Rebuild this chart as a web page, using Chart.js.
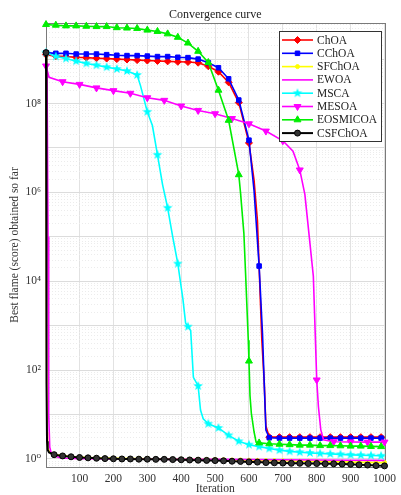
<!DOCTYPE html>
<html>
<head>
<meta charset="utf-8">
<script src="https://cdn.jsdelivr.net/npm/chart.js@4.4.1/dist/chart.umd.min.js"></script>
<style>
  body { margin: 0; background: #fff; }
  canvas { display: block; }
</style>
</head>
<body>
<canvas id="conv" width="401" height="495"></canvas>
<script>
// series names (legend order)
const seriesNames = ["ChOA", "CChOA", "SFChOA", "EWOA", "MSCA", "MESOA", "EOSMICOA", "CSFChOA"];

// ChOA
const choaIter = [1,30,60,90,120,150,180,210,240,270,300,330,360,390,420,450,480,510,540,570,600,615,625,632,638,645,650,660,690,720,750,780,810,840,870,900,930,960,990,1000];
const choaBest = [1.26e9,1.17e9,1.14e9,1.1e9,1.08e9,1.05e9,1.03e9,1.0e9,9.8e8,9.5e8,9.3e8,9.1e8,8.9e8,8.7e8,8.6e8,8.3e8,6.9e8,5.2e8,3.0e8,1.05e8,1.3e7,1.9e6,2.3e5,8e3,470,55,5.5,3.1,3.1,3.1,3.1,3.1,3.1,3.1,3.1,3.1,3.1,3.1,3.1,3.1];

// CChOA
const cchoaIter = [1,30,60,90,120,150,180,210,240,270,300,330,360,390,420,450,480,510,540,570,600,615,630,640,645,650,660,690,720,750,780,810,840,870,900,930,960,990,1000];
const cchoaBest = [1.4e9,1.35e9,1.35e9,1.3e9,1.3e9,1.3e9,1.26e9,1.22e9,1.2e9,1.2e9,1.17e9,1.14e9,1.14e9,1.1e9,1.08e9,1.0e9,8.3e8,6.4e8,3.6e8,1.2e8,1.5e7,1.1e6,2.2e4,650,51,4.5,3.0,2.95,2.95,2.95,2.95,2.95,2.95,2.95,2.95,2.95,2.95,2.95,2.95];

// SFChOA
const sfchoaIter = [1,2,3,4,6,10,25,50,75,100,125,150,175,200,225,250,275,300,325,350,375,400,425,450,475,500,525,550,575,600,625,650,675,700,725,750,775,800,825,850,875,900,925,950,975,1000];
const sfchoaBest = [1.4e9,1e7,500,4,1.8,1.5,1.27,1.19,1.14,1.1,1.08,1.06,1.05,1.04,1.03,1.02,1.02,1.01,1.0,1.0,0.99,0.99,0.98,0.98,0.97,0.97,0.96,0.95,0.95,0.94,0.93,0.92,0.92,0.91,0.9,0.89,0.89,0.88,0.87,0.86,0.86,0.85,0.84,0.84,0.83,0.83];

// EWOA
const ewoaIter = [1,4,7,9,12,16,22,40,60,100,200,300,400,500,600,700,800,900,1000];
const ewoaBest = [1.3e9,5e8,1e5,10,1.85,1.4,1.2,1.08,1.04,1.02,1.0,0.99,0.98,0.98,0.97,0.96,0.95,0.94,0.93];

// MSCA
const mscaIter = [1,30,60,90,120,150,180,210,240,270,280,300,315,330,345,360,375,390,405,413,420,428,436,450,457,465,480,510,540,570,600,630,660,690,720,750,780,810,840,870,900,930,960,990,1000];
const mscaBest = [1.4e9,1.15e9,1.03e9,9.0e8,8.0e8,7.3e8,6.6e8,6.0e8,5.4e8,4.4e8,2.5e8,6.5e7,3.2e7,7e6,1.5e6,4.5e5,1e5,2.5e4,4e3,1150,950,780,69,44,12.6,8,6.2,5.0,3.4,2.5,2.1,1.9,1.72,1.58,1.48,1.42,1.37,1.33,1.3,1.27,1.24,1.22,1.2,1.18,1.17];

// MESOA
const mesoaIter = [1,10,50,100,150,200,250,300,350,400,450,500,550,600,650,700,730,750,765,778,790,800,805,812,820,850,900,950,1000];
const mesoaBest = [7e8,3.9e8,3.1e8,2.7e8,2.25e8,1.95e8,1.7e8,1.35e8,1.18e8,8.8e7,7.0e7,5.9e7,4.6e7,3.5e7,2.4e7,1.45e7,8.5e6,3.2e6,9e5,1e5,1.3e4,60,15,4.5,2.7,2.45,2.42,2.4,2.4];

// EOSMICOA
const eosIter = [1,30,60,90,120,150,180,210,240,270,300,330,360,390,420,450,480,510,540,570,575,585,590,598,600,603,607,615,621,630,660,690,720,750,780,810,840,870,900,930,960,990,1000];
const eosBest = [6.0e9,5.8e9,5.6e9,5.6e9,5.5e9,5.4e9,5.4e9,5.1e9,5.0e9,4.9e9,4.5e9,4.2e9,3.7e9,3.1e9,2.3e9,1.5e9,8.4e8,2.0e8,4.2e7,2.5e6,1.0e6,1.2e5,1.5e4,470,160,27,10.7,4.1,2.4,2.3,2.2,2.15,2.1,2.05,2.05,2.0,2.0,1.98,1.95,1.95,1.92,1.9,1.9];

// CSFChOA
const csfIter = [1,2,3,4,6,10,25,50,75,100,125,150,175,200,225,250,275,300,325,350,375,400,425,450,475,500,525,550,575,600,625,650,675,700,725,750,775,800,825,850,875,900,925,950,975,1000];
const csfBest = [1.4e9,3e6,50,2.5,1.6,1.4,1.25,1.17,1.12,1.08,1.06,1.04,1.02,1.01,1.0,1.0,0.99,0.99,0.98,0.98,0.97,0.96,0.95,0.94,0.93,0.92,0.91,0.89,0.88,0.86,0.85,0.83,0.82,0.81,0.8,0.8,0.79,0.79,0.78,0.78,0.77,0.76,0.74,0.73,0.71,0.70];

// axis ticks
const xTickValues = [100,200,300,400,500,600,700,800,900,1000];
const yDecades = [0,1,2,3,4,5,6,7,8,9];
const yLabelledDecades = [0,2,4,6,8];

const FONT = "'Liberation Serif', 'DejaVu Serif', serif";

// filled pentagram for MSCA
function makeStar(color, r) {
  const c = document.createElement("canvas");
  const s = Math.ceil(r * 2 + 2);
  c.width = s; c.height = s;
  const g = c.getContext("2d");
  g.beginPath();
  for (let i = 0; i < 10; i++) {
    const rad = i % 2 === 0 ? r : r * 0.42;
    const a = -Math.PI / 2 + i * Math.PI / 5;
    const px = s / 2 + rad * Math.cos(a), py = s / 2 + rad * Math.sin(a);
    if (i === 0) g.moveTo(px, py); else g.lineTo(px, py);
  }
  g.closePath();
  g.fillStyle = color;
  g.fill();
  return c;
}

const styles = [
  { color: "#ff0000", fill: "#ff0000", point: "rectRot", r: 3.5, step: 30, width: 1.6 },
  { color: "#0000ff", fill: "#0000ff", point: "rect", r: 3.2, step: 30, width: 1.6 },
  { color: "#ffff00", fill: "#ffff00", point: "circle", r: 2, step: 25, width: 1.6 },
  { color: "#ff00ff", fill: "#ff00ff", point: false, r: 0, step: 0, width: 1.6 },
  { color: "#00ffff", fill: "#00ffff", point: makeStar("#00ffff", 5), r: 5, step: 30, width: 1.6 },
  { color: "#ff00ff", fill: "#ff00ff", point: "triangle", rot: 180, r: 4, step: 50, width: 1.6 },
  { color: "#00ee00", fill: "#00ee00", point: "triangle", r: 4, step: 30, width: 1.6 },
  { color: "#000000", fill: "#333333", point: "circle", r: 3, step: 25, width: 2 },
];

const iters = [choaIter, cchoaIter, sfchoaIter, ewoaIter, mscaIter, mesoaIter, eosIter, csfIter];
const bests = [choaBest, cchoaBest, sfchoaBest, ewoaBest, mscaBest, mesoaBest, eosBest, csfBest];

const datasets = seriesNames.map((name, i) => {
  const st = styles[i];
  return {
    label: name,
    data: iters[i].map((x, k) => ({ x: x, y: bests[i][k] })),
    borderColor: st.color,
    backgroundColor: st.fill,
    borderWidth: st.width,
    pointStyle: st.point || "circle",
    pointRotation: st.rot || 0,
    pointBorderColor: st.color,
    pointBorderWidth: 1,
    pointBackgroundColor: st.fill,
    pointRadius: (c) => {
      if (!st.step || !c.raw) return 0;
      const x = c.raw.x;
      return (x === 1 || x % st.step === 0) ? st.r : 0;
    },
    tension: 0,
    clip: 6,
    order: seriesNames.length - i,
  };
});

const sup = { "0": "\u2070", "2": "\u00b2", "4": "\u2074", "6": "\u2076", "8": "\u2078" };

function isDecade(v) {
  const l = Math.log10(v);
  return Math.abs(l - Math.round(l)) < 1e-6;
}

// title, frame and legend
const decorations = {
  id: "decorations",
  beforeDatasetsDraw(chart) {
    const { ctx, chartArea: a } = chart;
    ctx.save();
    ctx.strokeStyle = "#7a7a7a";
    ctx.lineWidth = 1;
    ctx.strokeRect(Math.round(a.left) + 0.5, Math.round(a.top) + 0.5,
      Math.round(a.right - a.left), Math.round(a.bottom - a.top));
    ctx.restore();
  },
  afterDraw(chart) {
    const { ctx, chartArea: a } = chart;
    ctx.save();
    ctx.fillStyle = "#222";
    ctx.font = "12px " + FONT;
    ctx.textAlign = "center";
    ctx.textBaseline = "middle";
    ctx.fillText("Convergence curve", (a.left + a.right) / 2, 15);

    // legend box
    const bx = 279.5, by = 31.5, bw = 102, bh = 110;
    ctx.fillStyle = "#fff";
    ctx.fillRect(bx, by, bw, bh);
    ctx.strokeStyle = "#333";
    ctx.lineWidth = 1;
    ctx.strokeRect(bx, by, bw, bh);
    ctx.font = "11.5px " + FONT;
    ctx.textAlign = "left";
    seriesNames.forEach((name, i) => {
      const st = styles[i];
      const y = 40 + i * 13.3;
      ctx.strokeStyle = st.color;
      ctx.lineWidth = st.width;
      ctx.beginPath();
      ctx.moveTo(282, y);
      ctx.lineTo(313, y);
      ctx.stroke();
      if (st.point) {
        ctx.fillStyle = st.fill;
        ctx.strokeStyle = st.color;
        ctx.lineWidth = 1;
        Chart.helpers.drawPoint(ctx, { pointStyle: st.point, radius: st.r, rotation: st.rot || 0, borderWidth: 1 }, 297.5, y);
      }
      ctx.fillStyle = "#222";
      ctx.fillText(name, 317, y + 0.5);
    });
    ctx.restore();
  },
};

new Chart(document.getElementById("conv"), {
  type: "line",
  data: { datasets: datasets },
  options: {
    responsive: false,
    animation: false,
    devicePixelRatio: 1,
    layout: { padding: { top: 23, right: 13, bottom: 0, left: 0 } },
    plugins: { legend: { display: false }, tooltip: { enabled: false }, title: { display: false } },
    scales: {
      x: {
        type: "linear",
        min: 1,
        max: 1000,
        afterBuildTicks: (s) => { s.ticks = xTickValues.map((v) => ({ value: v })); },
        afterFit: (s) => { s.height = 28; },
        ticks: {
          color: "#333",
          font: { family: FONT, size: 11.5 },
          padding: 5,
          maxRotation: 0,
          autoSkip: false,
          callback: (v) => String(v),
        },
        grid: { color: "#e2e2e2", lineWidth: 1, drawTicks: false },
        border: { display: false },
        title: { display: true, text: "Iteration", color: "#333", font: { family: FONT, size: 11.5 }, padding: { top: 0, bottom: -1 } },
      },
      y: {
        type: "logarithmic",
        min: 0.66,
        max: 6.5e9,
        afterBuildTicks: (s) => {
          const t = [];
          yDecades.forEach((d) => {
            for (let m = 1; m <= 9; m++) {
              const v = m * Math.pow(10, d);
              if (v >= 0.66 && v <= 6.5e9) t.push({ value: v });
            }
          });
          [0.7, 0.8, 0.9].forEach((v) => t.push({ value: v }));
          t.sort((p, q) => p.value - q.value);
          s.ticks = t;
        },
        afterFit: (s) => { s.width = 46; },
        ticks: {
          color: "#333",
          font: { family: FONT, size: 11.5 },
          padding: 5,
          autoSkip: false,
          callback: (v) => {
            if (!isDecade(v)) return "";
            const e = Math.round(Math.log10(v));
            return yLabelledDecades.includes(e) ? "10" + sup[String(e)] : "";
          },
        },
        grid: {
          drawTicks: false,
          color: (c) => (c.tick && isDecade(c.tick.value) ? "#dcdcdc" : "#ececec"),
          lineWidth: 1,
        },
        border: {
          display: false,
          dash: (c) => (c.tick && !isDecade(c.tick.value) ? [1, 2] : []),
        },
        title: { display: true, text: "Best flame (score) obtained so far", color: "#333", font: { family: FONT, size: 11.5 }, padding: { top: 8, bottom: 0 } },
      },
    },
  },
  plugins: [decorations],
});
</script>
</body>
</html>
